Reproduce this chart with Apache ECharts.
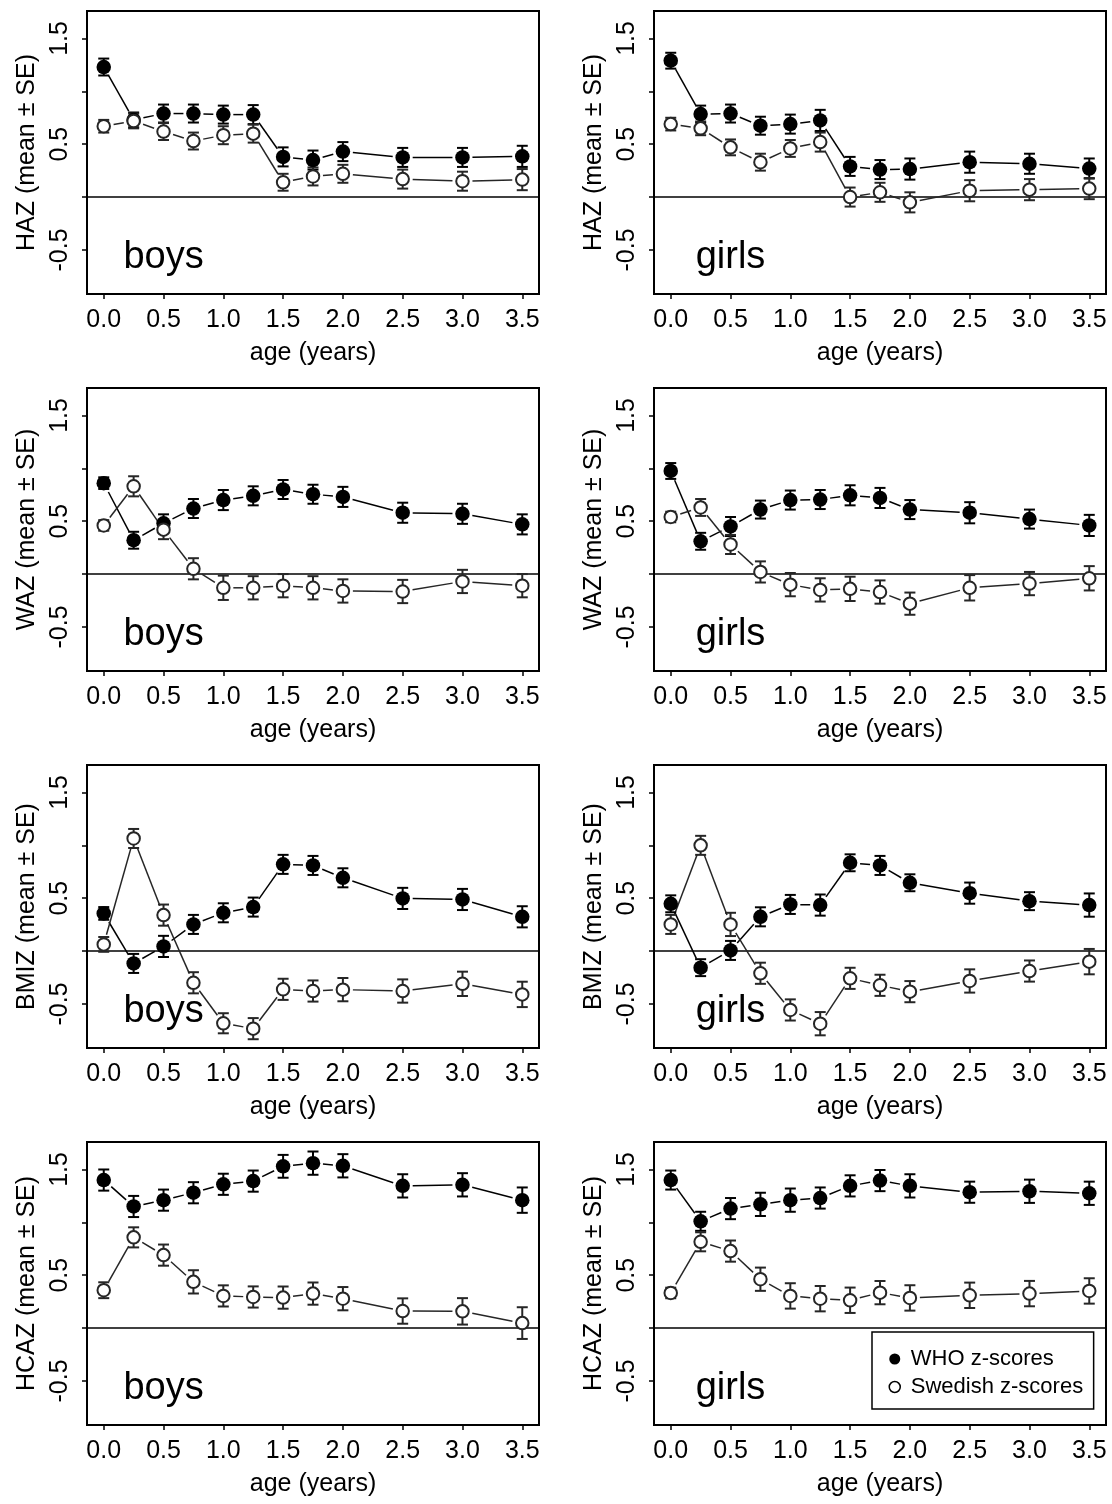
<!DOCTYPE html>
<html><head><meta charset="utf-8">
<script src="https://cdn.jsdelivr.net/npm/echarts@6/dist/echarts.min.js"></script>
<style>html,body{margin:0;padding:0;background:#fff}#c{width:1112px;height:1504px}</style>
</head><body><div id="c"></div><script>
// ---- data ----
const ages = [0, 0.25, 0.5, 0.75, 1, 1.25, 1.5, 1.75, 2, 2.5, 3, 3.5];
const xTickValues = [0, 0.5, 1, 1.5, 2, 2.5, 3, 3.5];
const yTickValues = [-0.5, 0, 0.5, 1, 1.5];
const yLabelValues = [-0.5, 0.5, 1.5];
const measures = ['HAZ', 'WAZ', 'BMIZ', 'HCAZ'];
const sexes = ['boys', 'girls'];
const seriesNames = ['WHO z-scores', 'Swedish z-scores'];

const hazBoysWho   = [1.23, 0.73, 0.79, 0.79, 0.78, 0.78, 0.38, 0.35, 0.43, 0.375, 0.375, 0.385];
const hazBoysWhoSE = [0.08, 0.07, 0.085, 0.085, 0.085, 0.09, 0.09, 0.09, 0.09, 0.09, 0.09, 0.1];
const hazBoysSwe   = [0.67, 0.72, 0.62, 0.53, 0.585, 0.6, 0.14, 0.195, 0.22, 0.17, 0.15, 0.165];
const hazBoysSweSE = [0.06, 0.07, 0.08, 0.08, 0.085, 0.085, 0.08, 0.085, 0.085, 0.09, 0.09, 0.1];

const hazGirlsWho   = [1.29, 0.785, 0.79, 0.675, 0.69, 0.725, 0.29, 0.26, 0.265, 0.33, 0.315, 0.27];
const hazGirlsWhoSE = [0.075, 0.08, 0.085, 0.085, 0.09, 0.1, 0.09, 0.09, 0.1, 0.1, 0.095, 0.095];
const hazGirlsSwe   = [0.69, 0.65, 0.47, 0.33, 0.46, 0.52, 0.0, 0.045, -0.05, 0.06, 0.07, 0.08];
const hazGirlsSweSE = [0.06, 0.065, 0.075, 0.08, 0.08, 0.09, 0.09, 0.09, 0.095, 0.1, 0.1, 0.1];

const wazBoysWho   = [0.86, 0.32, 0.48, 0.62, 0.70, 0.74, 0.80, 0.755, 0.73, 0.58, 0.57, 0.47];
const wazBoysWhoSE = [0.055, 0.08, 0.085, 0.09, 0.095, 0.09, 0.09, 0.09, 0.095, 0.095, 0.095, 0.095];
const wazBoysSwe   = [0.46, 0.83, 0.42, 0.05, -0.13, -0.13, -0.11, -0.13, -0.16, -0.165, -0.07, -0.11];
const wazBoysSweSE = [0.05, 0.095, 0.09, 0.1, 0.115, 0.11, 0.11, 0.11, 0.11, 0.11, 0.11, 0.11];

const wazGirlsWho   = [0.975, 0.31, 0.45, 0.61, 0.70, 0.705, 0.745, 0.72, 0.61, 0.58, 0.52, 0.46];
const wazGirlsWhoSE = [0.075, 0.08, 0.09, 0.085, 0.09, 0.09, 0.095, 0.095, 0.09, 0.1, 0.09, 0.1];
const wazGirlsSwe   = [0.54, 0.63, 0.28, 0.02, -0.10, -0.15, -0.14, -0.17, -0.28, -0.13, -0.09, -0.04];
const wazGirlsSweSE = [0.05, 0.08, 0.09, 0.1, 0.11, 0.11, 0.115, 0.11, 0.105, 0.12, 0.11, 0.115];

const bmizBoysWho   = [0.356, -0.117, 0.044, 0.252, 0.362, 0.416, 0.82, 0.81, 0.693, 0.498, 0.488, 0.324];
const bmizBoysWhoSE = [0.06, 0.09, 0.1, 0.09, 0.09, 0.09, 0.09, 0.09, 0.09, 0.1, 0.1, 0.1];
const bmizBoysSwe   = [0.063, 1.065, 0.34, -0.30, -0.683, -0.734, -0.362, -0.378, -0.365, -0.378, -0.31, -0.41];
const bmizBoysSweSE = [0.07, 0.09, 0.1, 0.1, 0.095, 0.1, 0.1, 0.1, 0.11, 0.11, 0.115, 0.12];

const bmizGirlsWho   = [0.447, -0.157, 0.006, 0.324, 0.441, 0.435, 0.835, 0.81, 0.646, 0.548, 0.472, 0.435];
const bmizGirlsWhoSE = [0.08, 0.08, 0.09, 0.09, 0.09, 0.1, 0.08, 0.09, 0.08, 0.1, 0.085, 0.11];
const bmizGirlsSwe   = [0.252, 1.0, 0.252, -0.21, -0.557, -0.687, -0.258, -0.324, -0.384, -0.283, -0.189, -0.10];
const bmizGirlsSweSE = [0.09, 0.09, 0.11, 0.1, 0.1, 0.11, 0.1, 0.1, 0.1, 0.11, 0.1, 0.12];

const hcazBoysWho   = [1.40, 1.15, 1.21, 1.28, 1.36, 1.39, 1.53, 1.56, 1.535, 1.345, 1.355, 1.21];
const hcazBoysWhoSE = [0.1, 0.1, 0.1, 0.1, 0.1, 0.1, 0.108, 0.11, 0.11, 0.11, 0.11, 0.12];
const hcazBoysSwe   = [0.358, 0.858, 0.69, 0.437, 0.304, 0.294, 0.288, 0.326, 0.278, 0.161, 0.158, 0.047];
const hcazBoysSweSE = [0.075, 0.095, 0.1, 0.11, 0.1, 0.1, 0.105, 0.105, 0.11, 0.12, 0.125, 0.15];

const hcazGirlsWho   = [1.40, 1.01, 1.13, 1.17, 1.21, 1.23, 1.345, 1.395, 1.345, 1.285, 1.294, 1.275];
const hcazGirlsWhoSE = [0.09, 0.09, 0.1, 0.11, 0.11, 0.1, 0.1, 0.1, 0.11, 0.1, 0.11, 0.11];
const hcazGirlsSwe   = [0.332, 0.816, 0.728, 0.462, 0.304, 0.278, 0.263, 0.335, 0.285, 0.31, 0.326, 0.351];
const hcazGirlsSweSE = [0.05, 0.09, 0.1, 0.11, 0.12, 0.12, 0.12, 0.11, 0.12, 0.12, 0.12, 0.12];

const sexLabelPos = [0.5, -0.5];

// ---- layout / style ----
const FONT = '"Liberation Sans", Arial, Helvetica, sans-serif';
const X_MIN = -0.14, X_MAX = 3.64, Y_MIN = -0.917, Y_MAX = 1.76;
const colLeft = [87, 654], rowTop = [11, 388, 765, 1142], GW = 452, GH = 283;
const GAP = 10;
const WHO_COL = '#000000', SWE_COL = '#262626';

const panelData = [
  [hazBoysWho, hazBoysWhoSE, hazBoysSwe, hazBoysSweSE, hazGirlsWho, hazGirlsWhoSE, hazGirlsSwe, hazGirlsSweSE],
  [wazBoysWho, wazBoysWhoSE, wazBoysSwe, wazBoysSweSE, wazGirlsWho, wazGirlsWhoSE, wazGirlsSwe, wazGirlsSweSE],
  [bmizBoysWho, bmizBoysWhoSE, bmizBoysSwe, bmizBoysSweSE, bmizGirlsWho, bmizGirlsWhoSE, bmizGirlsSwe, bmizGirlsSweSE],
  [hcazBoysWho, hcazBoysWhoSE, hcazBoysSwe, hcazBoysSweSE, hcazGirlsWho, hcazGirlsWhoSE, hcazGirlsSwe, hcazGirlsSweSE]
];

function segData(ys) {
  const d = [];
  for (let i = 1; i < ages.length; i++) d.push([ages[i - 1], ys[i - 1], ages[i], ys[i]]);
  return d;
}
function errData(ys, se) { return ages.map((a, i) => [a, ys[i] - se[i], ys[i] + se[i]]); }
function ptData(ys) { return ages.map((a, i) => [a, ys[i]]); }

function gapLine(color, lw) {
  return function (params, api) {
    const a = api.coord([api.value(0), api.value(1)]);
    const b = api.coord([api.value(2), api.value(3)]);
    const dx = b[0] - a[0], dy = b[1] - a[1], L = Math.hypot(dx, dy);
    if (L <= 2 * GAP) return { type: 'group', children: [] };
    const ux = dx / L, uy = dy / L;
    return { type: 'line', shape: { x1: a[0] + ux * GAP, y1: a[1] + uy * GAP, x2: b[0] - ux * GAP, y2: b[1] - uy * GAP },
      style: { stroke: color, lineWidth: lw } };
  };
}
function errBar(color, lw) {
  return function (params, api) {
    const lo = api.coord([api.value(0), api.value(1)]);
    const hi = api.coord([api.value(0), api.value(2)]);
    const hw = 5.5, st = { stroke: color, lineWidth: lw };
    return { type: 'group', children: [
      { type: 'line', shape: { x1: lo[0], y1: lo[1], x2: hi[0], y2: hi[1] }, style: st },
      { type: 'line', shape: { x1: lo[0] - hw, y1: lo[1], x2: lo[0] + hw, y2: lo[1] }, style: st },
      { type: 'line', shape: { x1: hi[0] - hw, y1: hi[1], x2: hi[0] + hw, y2: hi[1] }, style: st }
    ] };
  };
}
function zeroLine(params, api) {
  const a = api.coord([api.value(0), 0]);
  const b = api.coord([api.value(1), 0]);
  return { type: 'line', shape: { x1: a[0], y1: a[1], x2: b[0], y2: b[1] }, style: { stroke: '#000', lineWidth: 1.5 } };
}
function sexText(text) {
  return function (params, api) {
    const p = api.coord([api.value(0), api.value(1)]);
    return { type: 'text', x: p[0], y: p[1] + 8,
      style: { text: text, fill: '#000', font: '38px ' + FONT, align: 'center', verticalAlign: 'middle' } };
  };
}

const grids = [], xAxes = [], yAxes = [], series = [];
let gi = 0;
for (let r = 0; r < 4; r++) {
  for (let c = 0; c < 2; c++) {
    const d = panelData[r];
    const who = d[c * 4], whoSE = d[c * 4 + 1], swe = d[c * 4 + 2], sweSE = d[c * 4 + 3];
    grids.push({ left: colLeft[c], top: rowTop[r], width: GW, height: GH, show: true,
      borderColor: '#000', borderWidth: 2, backgroundColor: '#fff', containLabel: false });
    xAxes.push({ type: 'value', gridIndex: gi, min: X_MIN, max: X_MAX, position: 'bottom',
      name: 'age (years)', nameLocation: 'middle', nameGap: 47,
      nameTextStyle: { fontFamily: FONT, fontSize: 25, color: '#000' },
      axisLine: { show: true, onZero: false, lineStyle: { color: '#000', width: 2 } },
      axisTick: { show: true, inside: false, length: 5, customValues: xTickValues, lineStyle: { color: '#000', width: 1.5 } },
      axisLabel: { show: true, customValues: xTickValues, margin: 14, fontFamily: FONT, fontSize: 25, color: '#000',
        formatter: v => v.toFixed(1) },
      splitLine: { show: false } });
    yAxes.push({ type: 'value', gridIndex: gi, min: Y_MIN, max: Y_MAX, position: 'left',
      name: measures[r] + ' (mean \u00b1 SE)', nameLocation: 'middle', nameGap: 47, nameRotate: 90,
      nameTextStyle: { fontFamily: FONT, fontSize: 25, color: '#000' },
      axisLine: { show: true, onZero: false, lineStyle: { color: '#000', width: 2 } },
      axisTick: { show: true, inside: false, length: 5, customValues: yTickValues, lineStyle: { color: '#000', width: 1.5 } },
      axisLabel: { show: true, customValues: yLabelValues, rotate: 90, margin: 14, fontFamily: FONT, fontSize: 25, color: '#000',
        formatter: v => v.toFixed(1) },
      splitLine: { show: false } });

    const base = { xAxisIndex: gi, yAxisIndex: gi, silent: true, animation: false };
    series.push(Object.assign({ type: 'custom', z: 1, renderItem: zeroLine, data: [[X_MIN, X_MAX]], encode: { x: [0, 1] } }, base));
    series.push(Object.assign({ type: 'custom', z: 2, renderItem: gapLine(WHO_COL, 1.5), data: segData(who), encode: { x: [0, 2], y: [1, 3] } }, base));
    series.push(Object.assign({ type: 'custom', z: 2, renderItem: gapLine(SWE_COL, 1.5), data: segData(swe), encode: { x: [0, 2], y: [1, 3] } }, base));
    series.push(Object.assign({ type: 'custom', z: 3, renderItem: errBar(WHO_COL, 2), data: errData(who, whoSE), encode: { x: 0, y: [1, 2] } }, base));
    series.push(Object.assign({ type: 'custom', z: 3, renderItem: errBar(SWE_COL, 2), data: errData(swe, sweSE), encode: { x: 0, y: [1, 2] } }, base));
    series.push(Object.assign({ type: 'scatter', name: seriesNames[0], z: 4, symbol: 'circle', symbolSize: 14.5,
      itemStyle: { color: WHO_COL, opacity: 1 }, data: ptData(who) }, base));
    series.push(Object.assign({ type: 'scatter', name: seriesNames[1], z: 5, symbol: 'circle', symbolSize: 12.5,
      itemStyle: { color: '#fff', borderColor: SWE_COL, borderWidth: 2, opacity: 1 }, data: ptData(swe) }, base));
    series.push(Object.assign({ type: 'custom', z: 6, renderItem: sexText(sexes[c]), data: [sexLabelPos], encode: { x: 0, y: 1 } }, base));
    gi++;
  }
}

const chart = echarts.init(document.getElementById('c'), null, { renderer: 'canvas' });
chart.setOption({
  backgroundColor: '#fff',
  animation: false,
  grid: grids, xAxis: xAxes, yAxis: yAxes, series: series,
  legend: {
    left: 872, top: 1332, orient: 'vertical', backgroundColor: '#fff',
    borderColor: '#000', borderWidth: 1.5, borderRadius: 0,
    padding: [16, 10.5, 11, 16.5], itemGap: 6, itemWidth: 22, itemHeight: 11,
    selectedMode: false,
    textStyle: { fontFamily: FONT, fontSize: 22, color: '#000' },
    data: [
      { name: seriesNames[0], icon: 'circle', itemStyle: { color: '#000', borderWidth: 0 } },
      { name: seriesNames[1], icon: 'circle', itemStyle: { color: '#fff', borderColor: '#000', borderWidth: 1.5 } }
    ]
  }
});
</script></body></html>
